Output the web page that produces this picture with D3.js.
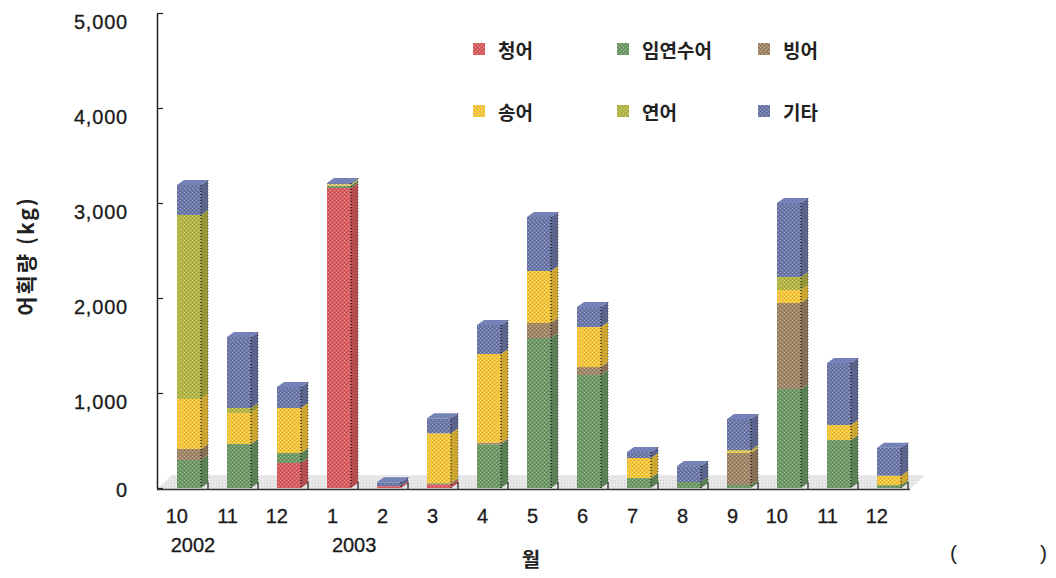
<!DOCTYPE html>
<html><head><meta charset="utf-8">
<script src="https://cdn.jsdelivr.net/npm/d3@7"></script>
<style>body{margin:0;background:#fff} svg{display:block}</style>
</head><body><svg id="chart" width="1056" height="578"></svg>
<script>
// ---- data ----
const months = ["10","11","12","1","2","3","4","5","6","7","8","9","10","11","12"];
const yearLabels = [{text:"2002", index:0},{text:"2003", index:3}];
const seriesNames = ["청어","임연수어","빙어","송어","연어","기타"];
const seriesColors = ["#d95c60","#6e9966","#a08566","#f5c53a","#b3b544","#6b77a8"];
const herring   = [0,0,263,3158,20,40,0,0,0,0,0,0,0,0,0];
const atkaMack  = [295,463,105,25,0,10,460,1579,1189,105,63,32,1042,505,30];
const smelt     = [116,0,0,0,0,0,15,158,84,0,0,337,905,0,0];
const trout     = [526,326,474,15,0,526,936,547,421,211,0,16,137,158,100];
const salmon    = [1937,53,0,0,0,0,0,0,0,0,0,16,137,0,0];
const others    = [316,747,221,12,40,158,305,568,211,63,168,326,779,653,295];
const yTicks = [0,1000,2000,3000,4000,5000];
const yTitle = "어획량  (kg)";
const xTitle = "월";

const seriesValues = [herring, atkaMack, smelt, trout, salmon, others];
const table = months.map((m,i)=>{
  const row = {i, month:m};
  seriesNames.forEach((s,k)=>row[s]=seriesValues[k][i]);
  return row;
});

// ---- setup ----
const svg = d3.select("#chart");
const font = "'Liberation Sans', Arial, sans-serif";
const kfont = "'Noto Sans CJK KR', 'Noto Sans', sans-serif";
const x = d3.scaleBand().domain(d3.range(months.length)).range([164,914]).paddingInner(0.52).paddingOuter(0.26);
const y = d3.scaleLinear().domain([0,5000]).range([488,13]);
const bw = x.bandwidth();
const dx = 7, dy = 5;
const axisX = 157;

// patterns
const defs = svg.append("defs");
seriesColors.forEach((c,k)=>{
  const p = defs.append("pattern").attr("id","pat"+k).attr("patternUnits","userSpaceOnUse")
    .attr("width",4).attr("height",4);
  p.append("rect").attr("width",4).attr("height",4).attr("fill",c);
  p.append("rect").attr("x",0).attr("y",0).attr("width",1).attr("height",1).attr("fill","#fff").attr("opacity",0.35);
  p.append("rect").attr("x",2).attr("y",2).attr("width",1).attr("height",1).attr("fill","#fff").attr("opacity",0.35);
  p.append("rect").attr("x",2).attr("y",0).attr("width",1).attr("height",1).attr("fill","#000").attr("opacity",0.12);
  p.append("rect").attr("x",0).attr("y",2).attr("width",1).attr("height",1).attr("fill","#000").attr("opacity",0.12);
});
const fp = defs.append("pattern").attr("id","floorpat").attr("patternUnits","userSpaceOnUse").attr("width",3).attr("height",3);
fp.append("rect").attr("width",3).attr("height",3).attr("fill","#e8e8e8");
fp.append("rect").attr("width",1).attr("height",1).attr("fill","#cfcfcf");

// floor
const xr = x.range();
const floorRight = xr[1]-4;
svg.append("polygon")
  .attr("points",[[axisX,489],[axisX+15,475],[floorRight+15,475],[floorRight,489]].map(p=>p.join(",")).join(" "))
  .attr("fill","url(#floorpat)");

// stacked 3D bars
const stack = d3.stack().keys(seriesNames);
const layers = stack(table);
const barG = svg.append("g");
table.forEach((row,i)=>{
  const bx = x(i);
  const g = barG.append("g");
  let topK = -1;
  layers.forEach((L,k)=>{ if (L[i][1]-L[i][0] > 0) topK = k; });
  layers.forEach((L,k)=>{
    const v0 = L[i][0], v1 = L[i][1];
    if (v1 - v0 <= 0) return;
    const c = seriesColors[k];
    const yt = y(v1), yb = y(v0);
    g.append("rect").attr("x",bx).attr("y",yt).attr("width",bw).attr("height",yb-yt)
      .attr("fill","url(#pat"+k+")");
    g.append("polygon")
      .attr("points",[[bx+bw,yt],[bx+bw+dx,yt-dy],[bx+bw+dx,yb-dy],[bx+bw,yb]].map(p=>p.join(",")).join(" "))
      .attr("fill",d3.color(c).darker(0.5));
    if (k===topK){
      g.append("polygon")
        .attr("points",[[bx,yt],[bx+dx,yt-dy],[bx+bw+dx,yt-dy],[bx+bw,yt]].map(p=>p.join(",")).join(" "))
        .attr("fill",d3.color(c).brighter(0.25));
    }
  });
  const total = d3.sum(seriesValues, s=>s[i]);
  g.append("line").attr("x1",bx+bw).attr("x2",bx+bw).attr("y1",y(total)).attr("y2",y(0))
    .attr("stroke","#111").attr("stroke-width",1.2).attr("stroke-dasharray","1,2");
  g.append("line").attr("x1",bx+bw+dx).attr("x2",bx+bw+dx).attr("y1",y(total)-dy).attr("y2",y(0)-dy)
    .attr("stroke","#333").attr("stroke-width",0.8).attr("stroke-dasharray","1,2");
});

// y axis
const yAxis = d3.axisRight(y).tickValues(yTicks).tickSize(6).tickSizeOuter(0).tickFormat("");
const ya = svg.append("g").attr("transform",`translate(${axisX},0)`).call(yAxis);
ya.select(".domain").attr("stroke","#222").attr("stroke-width",1.5);
ya.selectAll(".tick line").attr("stroke","#222").attr("stroke-width",1.2);
svg.append("g").selectAll("text").data(yTicks).join("text")
  .attr("x",128).attr("y",d=>y(d)+(d?9:2)).attr("text-anchor","end").attr("dominant-baseline","central")
  .attr("font-family",font).attr("font-size",20).attr("letter-spacing",0.8).attr("fill","#1a1a1a")
  .attr("stroke","#1a1a1a").attr("stroke-width",0.3)
  .text(d=>d3.format(",")(d));

// baseline + category ticks
svg.append("line").attr("x1",axisX).attr("x2",floorRight).attr("y1",489.5).attr("y2",489.5)
  .attr("stroke","#333").attr("stroke-width",1.5);
svg.append("g").selectAll("line").data(d3.range(months.length)).join("line")
  .attr("x1",i=>x(i)+bw+7).attr("x2",i=>x(i)+bw+7).attr("y1",482).attr("y2",490)
  .attr("stroke","#444").attr("stroke-width",1.5);

// x labels
const mLabels = svg.append("g").selectAll("text").data(months).join("text")
  .attr("x",(d,i)=>x(i)+11).attr("y",523).attr("text-anchor","end")
  .attr("font-family",font).attr("font-size",20).attr("fill","#1a1a1a")
  .attr("stroke","#1a1a1a").attr("stroke-width",0.3).text(d=>d);
yearLabels.forEach(yl=>{
  const bb = mLabels.nodes()[yl.index].getBBox();
  svg.append("text").attr("x",bb.x+5).attr("y",552).attr("font-family",font).attr("font-size",20)
    .attr("fill","#1a1a1a").attr("stroke","#1a1a1a").attr("stroke-width",0.3).text(yl.text);
});

// axis titles
svg.append("text").attr("transform","translate(25,256) rotate(-90)").attr("text-anchor","middle")
  .attr("dominant-baseline","central").attr("font-family",kfont).attr("font-size",21).attr("font-weight",700)
  .attr("letter-spacing",2).attr("fill","#222").text(yTitle);
svg.append("text").attr("x",531).attr("y",558).attr("text-anchor","middle").attr("dominant-baseline","central")
  .attr("font-family",kfont).attr("font-size",20).attr("font-weight",700).attr("fill","#222").text(xTitle);
svg.append("text").attr("x",950).attr("y",560).attr("font-family",font).attr("font-size",21).attr("fill","#222").text("(");
svg.append("text").attr("x",1040).attr("y",560).attr("font-family",font).attr("font-size",21).attr("fill","#222").text(")");

// legend
const legCols = [473,617,758], legRows = [49,111];
const leg = svg.append("g").selectAll("g").data(seriesNames).join("g")
  .attr("transform",(d,i)=>`translate(${legCols[i%3]},${legRows[Math.floor(i/3)]})`);
leg.append("rect").attr("x",0).attr("y",-6).attr("width",12).attr("height",12).attr("fill",(d,i)=>"url(#pat"+i+")");
leg.append("text").attr("x",25).attr("y",0).attr("dominant-baseline","central")
  .attr("font-family",kfont).attr("font-size",19).attr("font-weight",700).attr("fill","#222").text(d=>d);
</script></body></html>
